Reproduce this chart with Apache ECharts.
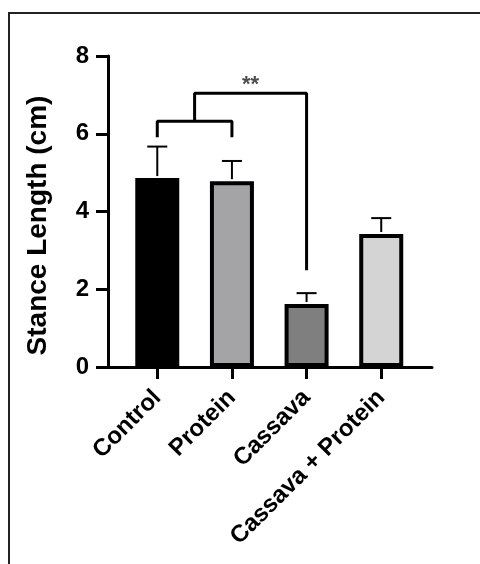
<!DOCTYPE html>
<html>
<head>
<meta charset="utf-8">
<script src="https://cdn.jsdelivr.net/npm/echarts@6/dist/echarts.min.js"></script>
<style>
html,body{margin:0;padding:0;background:#fff;}
#chart{width:480px;height:564px;}
</style>
</head>
<body>
<div id="chart"></div>
<script>
// ---- data ----
var categories = ['Control', 'Protein', 'Cassava', 'Cassava + Protein'];
var means = [4.86, 4.78, 1.62, 3.42];
var upperErr = [5.67, 5.30, 1.90, 3.83];
var barColors = ['#000000', '#a4a4a7', '#7f7f7f', '#d4d4d4'];
var yTicks = [0, 2, 4, 6, 8];
// significance brackets (category index, value)
var bracketLowX = [0, 0, 1, 1];
var bracketLowY = [5.91, 6.32, 6.32, 5.91];
var bracketHighX = [0.5, 0.5, 2, 2];
var bracketHighY = [6.32, 7.04, 7.04, 2.49];
var sigLabel = '**';
var sigPos = [1.25, 7.04];

var FONT = '"Liberation Sans", Arial, sans-serif';
var chart = echarts.init(document.getElementById('chart'), null, {renderer: 'canvas'});

function zip(xs, ys) { return xs.map(function (x, i) { return [x, ys[i]]; }); }

var option = {
  backgroundColor: '#ffffff',
  animation: false,
  graphic: [{
    type: 'polyline',
    shape: {points: [[9, 564], [9, 13], [480, 13]]},
    style: {stroke: '#222', lineWidth: 2, fill: null},
    silent: true
  }],
  grid: {left: 108, right: 48, top: 56, bottom: 197, containLabel: false},
  xAxis: {
    type: 'value',
    min: -0.66,
    max: 3.68,
    splitLine: {show: false},
    axisLine: {show: true, onZero: false, lineStyle: {color: '#000', width: 3}},
    axisTick: {show: true, customValues: [0, 1, 2, 3], length: 12, lineStyle: {color: '#000', width: 3}},
    axisLabel: {
      show: true,
      customValues: [0, 1, 2, 3],
      rotate: 45,
      margin: 27,
      color: '#000',
      fontFamily: FONT,
      fontWeight: 'bold',
      fontSize: 24,
      formatter: function (v) { return categories[Math.round(v)]; }
    }
  },
  yAxis: {
    type: 'value',
    min: yTicks[0],
    max: yTicks[yTicks.length - 1],
    interval: 2,
    splitLine: {show: false},
    axisLine: {show: true, onZero: false, lineStyle: {color: '#000', width: 3}},
    axisTick: {show: true, length: 12, lineStyle: {color: '#000', width: 3}},
    axisLabel: {
      margin: 19,
      color: '#000',
      fontFamily: FONT,
      fontWeight: 'bold',
      fontSize: 24
    },
    name: 'Stance Length (cm)',
    nameLocation: 'middle',
    nameGap: 56,
    nameTextStyle: {
      color: '#000',
      fontFamily: FONT,
      fontWeight: 'bold',
      fontSize: 28,
      padding: [0, 28, 0, 0]
    }
  },
  series: [
    {
      type: 'bar',
      barWidth: 44,
      data: means.map(function (v, i) {
        return {
          value: [i, v],
          itemStyle: {color: barColors[i], borderColor: '#000', borderWidth: 4}
        };
      }),
      z: 2
    },
    {
      type: 'custom',
      z: 3,
      data: means.map(function (v, i) { return [i, v, upperErr[i]]; }),
      renderItem: function (params, api) {
        var base = api.coord([api.value(0), api.value(1)]);
        var top = api.coord([api.value(0), api.value(2)]);
        var half = 10;
        return {
          type: 'group',
          children: [
            {type: 'line', shape: {x1: top[0], y1: base[1] - 2, x2: top[0], y2: top[1]},
             style: {stroke: '#000', lineWidth: 2}},
            {type: 'line', shape: {x1: top[0] - half, y1: top[1], x2: top[0] + half, y2: top[1]},
             style: {stroke: '#000', lineWidth: 2}}
          ]
        };
      }
    },
    {
      type: 'line',
      data: zip(bracketLowX, bracketLowY),
      symbol: 'none',
      lineStyle: {color: '#000', width: 3},
      z: 4
    },
    {
      type: 'line',
      data: zip(bracketHighX, bracketHighY),
      symbol: 'none',
      lineStyle: {color: '#000', width: 3},
      z: 4
    },
    {
      type: 'scatter',
      data: [sigPos],
      symbolSize: 0,
      label: {
        show: true,
        position: 'top',
        distance: -3,
        formatter: sigLabel,
        color: '#222',
        fontFamily: FONT,
        fontWeight: 'bold',
        fontSize: 22
      },
      z: 5
    }
  ]
};
chart.setOption(option);
</script>
</body>
</html>
